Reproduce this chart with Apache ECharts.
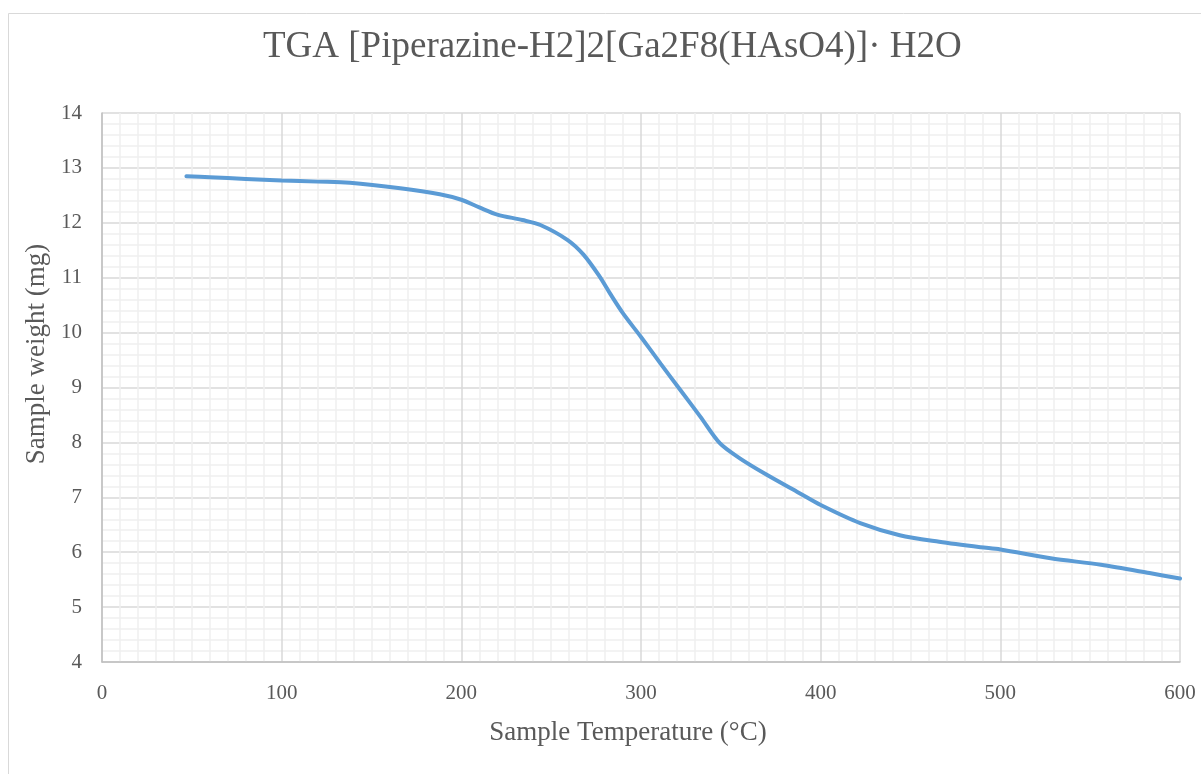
<!DOCTYPE html>
<html>
<head>
<meta charset="utf-8">
<script src="https://cdn.jsdelivr.net/npm/echarts@6/dist/echarts.min.js"></script>
<style>
  html, body { margin: 0; padding: 0; background: #fff; }
  #main { width: 1201px; height: 774px; }
</style>
</head>
<body>
<div id="main"></div>
<script>
// sample temperature (°C) and weight (mg)
var temperature = [47, 60, 80, 100, 120, 138, 166, 188, 200, 210, 220, 234, 244, 259, 268, 277, 283, 290, 300, 311,
  322, 333, 344, 355, 370, 388, 400, 422, 444, 466, 489, 500, 528, 556, 583, 600]
var weight = [12.85, 12.83, 12.80, 12.77, 12.75, 12.73, 12.63, 12.52, 12.42, 12.28, 12.15, 12.05, 11.96, 11.69, 11.42, 11.02, 10.70, 10.35, 9.92, 9.43,
  8.95, 8.47, 7.98, 7.71, 7.41, 7.08, 6.86, 6.53, 6.31, 6.19, 6.09, 6.05, 5.89, 5.77, 5.62, 5.52]

var titleText = 'TGA [Piperazine-H2]2[Ga2F8(HAsO4)]· H2O'
var xName = 'Sample Temperature (°C)'
var yName = 'Sample weight (mg)'

var font = '"Liberation Serif", "Times New Roman", serif'
var textColor = '#595959'

var points = temperature.map(function (t, i) { return [t, weight[i]] })

var chart = echarts.init(document.getElementById('main'))
chart.setOption({
  animation: false,
  backgroundColor: '#fff',
  textStyle: { fontFamily: font },
  graphic: [{
    type: 'rect',
    shape: { x: 8.5, y: 13.5, width: 1300, height: 900 },
    style: { fill: 'none', stroke: '#d9d9d9', lineWidth: 1 },
    z: -1
  }, {
    // axis titles sit a bit off the plot centre, like the original
    type: 'text',
    x: 628,
    y: 733,
    style: {
      text: xName,
      font: '27px ' + font,
      fill: textColor,
      textAlign: 'center',
      textVerticalAlign: 'middle'
    }
  }, {
    type: 'text',
    x: 37,
    y: 354,
    rotation: Math.PI / 2,
    style: {
      text: yName,
      font: '27px ' + font,
      fill: textColor,
      textAlign: 'center',
      textVerticalAlign: 'middle'
    }
  }],
  title: {
    text: titleText,
    left: 258,
    top: 24,
    textStyle: {
      fontFamily: font,
      fontSize: 37,
      fontWeight: 'normal',
      color: textColor
    }
  },
  grid: {
    left: 102,
    right: 21,
    top: 113,
    bottom: 112
  },
  xAxis: {
    type: 'value',
    min: 0,
    max: 600,
    interval: 100,
    axisLine: { show: true, lineStyle: { color: '#bfbfbf', width: 1.5 } },
    axisTick: { show: false },
    axisLabel: { fontFamily: font, fontSize: 21, color: textColor, margin: 21 },
    splitLine: { show: true, lineStyle: { color: '#d9d9d9', width: 1.5 } },
    minorTick: { show: false, splitNumber: 10 },
    minorSplitLine: { show: true, lineStyle: { color: '#f0f0f0', width: 1.5 } }
  },
  yAxis: {
    type: 'value',
    min: 4,
    max: 14,
    interval: 1,
    axisLine: { show: true, lineStyle: { color: '#bfbfbf', width: 1.5 } },
    axisTick: { show: false },
    axisLabel: { fontFamily: font, fontSize: 21, color: textColor, margin: 20 },
    splitLine: { show: true, lineStyle: { color: '#d9d9d9', width: 1.5 } },
    minorTick: { show: false, splitNumber: 5 },
    minorSplitLine: { show: true, lineStyle: { color: '#f0f0f0', width: 1.5 } }
  },
  series: [{
    type: 'line',
    data: points,
    smooth: 0.3,
    showSymbol: false,
    lineStyle: { color: '#5b9bd5', width: 4, cap: 'round' }
  }]
})
</script>
</body>
</html>
